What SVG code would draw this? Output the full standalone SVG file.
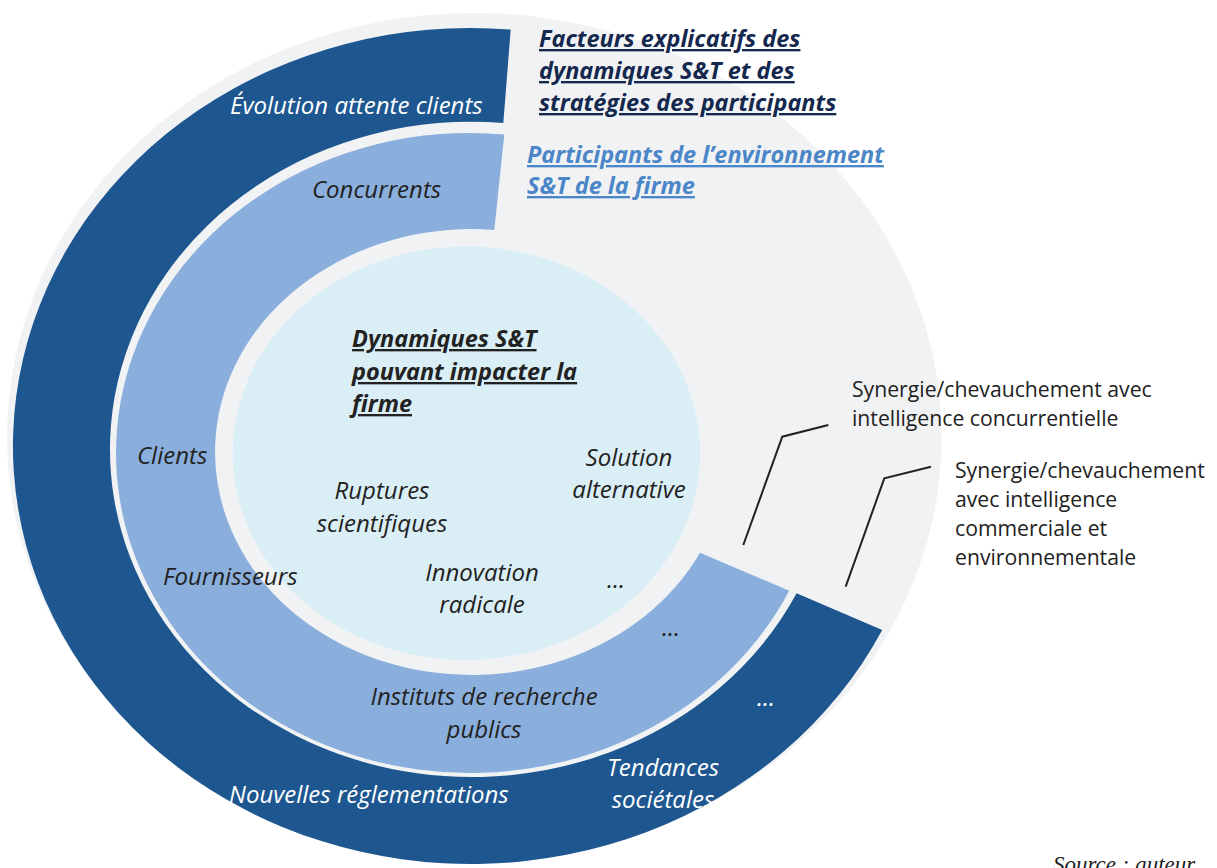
<svg xmlns="http://www.w3.org/2000/svg" width="1217" height="868" viewBox="0 0 1217 868">
<style>
.bg{fill:#F1F2F4}
.dark{fill:#1E5790}
.mid{fill:#8AAFDC}
.core{fill:#DAEEF6}
.lbl{font-family:"Open Sans","Noto Sans",sans-serif;font-style:italic;font-size:24px;fill:#222}
.wt{fill:#fff}
.ttl{font-family:"Open Sans","Noto Sans",sans-serif;font-style:italic;font-weight:bold;font-size:23.5px;text-decoration:underline}
.note{font-family:"Open Sans","Noto Sans",sans-serif;font-size:21.2px;fill:#222}
.conn{fill:none;stroke:#222;stroke-width:2}
</style>
<rect width="1217" height="868" fill="#fff"/>
<g id="background">
<ellipse class="bg" cx="474.3" cy="437" rx="467.3" ry="424"/>
</g>
<g id="core-dynamiques">
<ellipse class="core" cx="466.4" cy="453.3" rx="233.7" ry="206.7"/>
<text class="ttl" fill="#222" x="352" y="347">Dynamiques S&amp;T</text>
<text class="ttl" fill="#222" x="352" y="380">pouvant impacter la</text>
<text class="ttl" fill="#222" x="352" y="412">firme</text>
<text class="lbl" text-anchor="middle" x="382" y="499">Ruptures</text>
<text class="lbl" text-anchor="middle" x="382" y="532">scientifiques</text>
<text class="lbl" text-anchor="middle" x="629" y="466">Solution</text>
<text class="lbl" text-anchor="middle" x="629" y="498">alternative</text>
<text class="lbl" text-anchor="middle" x="482" y="581">Innovation</text>
<text class="lbl" text-anchor="middle" x="482" y="613">radicale</text>
<text class="lbl" text-anchor="middle" x="616" y="588">...</text>
</g>
<g id="ring-participants">
<path class="mid" d="M504.3,134.5 A353.8,320 0 1 0 789.2,590.7 L700,552.7 A256.3,223 0 1 1 494.3,229.9 Z"/>
<text class="lbl" x="312" y="198">Concurrents</text>
<text class="lbl" x="137" y="464">Clients</text>
<text class="lbl" x="163" y="585">Fournisseurs</text>
<text class="lbl" text-anchor="middle" x="484" y="705">Instituts de recherche</text>
<text class="lbl" text-anchor="middle" x="484" y="738">publics</text>
<text class="lbl" text-anchor="middle" x="671" y="636">...</text>
</g>
<g id="ring-facteurs">
<path class="dark" d="M510.7,29.6 A458,418 0 1 0 882.2,630 L796.6,593.3 A361.7,327.7 0 1 1 503.3,122.9 Z"/>
<text class="lbl wt" x="230" y="114">Évolution attente clients</text>
<text class="lbl wt" x="229" y="803">Nouvelles réglementations</text>
<text class="lbl wt" text-anchor="middle" x="663" y="776">Tendances</text>
<text class="lbl wt" text-anchor="middle" x="663" y="808">sociétales</text>
<text class="lbl wt" text-anchor="middle" x="766" y="706">...</text>
</g>
<g id="legend-facteurs">
<text class="ttl" fill="#14284E" x="539" y="47">Facteurs explicatifs des</text>
<text class="ttl" fill="#14284E" x="539" y="79">dynamiques S&amp;T et des</text>
<text class="ttl" fill="#14284E" x="539" y="111">stratégies des participants</text>
</g>
<g id="legend-participants">
<text class="ttl" fill="#4A86C8" x="527" y="163">Participants de l’environnement</text>
<text class="ttl" fill="#4A86C8" x="527" y="194">S&amp;T de la firme</text>
</g>
<g id="connectors">
<polyline class="conn" points="743.3,545 782.3,436.7 828.3,425"/>
<polyline class="conn" points="845.7,586.7 884.3,478.3 931,466.7"/>
</g>
<g id="note-concurrentielle">
<text class="note" x="852" y="397">Synergie/chevauchement avec</text>
<text class="note" x="852" y="426">intelligence concurrentielle</text>
</g>
<g id="note-commerciale">
<text class="note" x="955" y="478">Synergie/chevauchement</text>
<text class="note" x="955" y="507">avec intelligence</text>
<text class="note" x="955" y="536">commerciale et</text>
<text class="note" x="955" y="565">environnementale</text>
</g>
<g id="source">
<text x="1053" y="872" font-family="Liberation Serif, serif" font-style="italic" font-size="23" fill="#222">Source : auteur</text>
</g>
</svg>
